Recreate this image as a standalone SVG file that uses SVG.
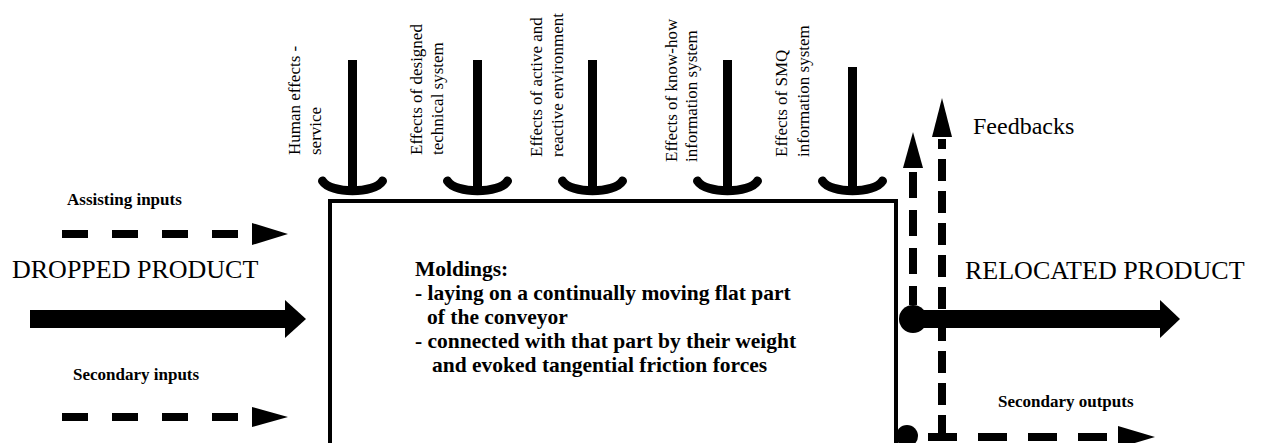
<svg xmlns="http://www.w3.org/2000/svg" width="1263" height="443" viewBox="0 0 1263 443">
  <style>
    text { font-family: "Liberation Serif", "Times New Roman", serif; fill: #000; }
    .vert { font-size: 17px; }
    .big { font-size: 26px; }
    .feed { font-size: 24px; }
    .small { font-size: 17px; font-weight: bold; }
    .body { font-size: 21.5px; font-weight: bold; }
    .frame { fill: none; stroke: #000; stroke-width: 4; }
    .flow { stroke: #000; stroke-width: 18; fill: none; }
    .dash { stroke: #000; stroke-width: 8; fill: none; }
    .shaft { stroke: #000; stroke-width: 9; fill: none; }
    .cup { stroke: #000; stroke-width: 9; fill: none; stroke-linecap: round; }
    .head { fill: #000; }
  </style>
  <defs>
    <!-- control arrow: vertical shaft ending in a cup -->
    <g id="ctrl">
      <path class="cup" d="M-30,181 C-22,194 22,194 30,181"/>
    </g>
  </defs>
  <rect width="1263" height="443" fill="#fff"/>

  <!-- process box -->
  <g id="process">
    <rect class="frame" x="330" y="201" width="566" height="270"/>
    <text class="body" x="415" y="276">Moldings:</text>
    <text class="body" x="415" y="300">- laying on a continually moving flat part</text>
    <text class="body" x="427" y="324">of the conveyor</text>
    <text class="body" x="415" y="348">- connected with that part by their weight</text>
    <text class="body" x="432" y="372">and evoked tangential friction forces</text>
  </g>

  <!-- control labels (rotated) -->
  <g id="ctrl-human">
    <text class="vert" transform="translate(300,155) rotate(-90)">Human effects -</text>
    <text class="vert" transform="translate(321,155) rotate(-90)">service</text>
  </g>
  <g id="ctrl-technical">
    <text class="vert" transform="translate(422,155) rotate(-90)">Effects of designed</text>
    <text class="vert" transform="translate(443,155) rotate(-90)">technical system</text>
  </g>
  <g id="ctrl-environment">
    <text class="vert" transform="translate(542,157) rotate(-90)">Effects of active and</text>
    <text class="vert" transform="translate(563,157) rotate(-90)">reactive environment</text>
  </g>
  <g id="ctrl-knowhow">
    <text class="vert" transform="translate(677,162) rotate(-90)">Effects of know-how</text>
    <text class="vert" transform="translate(697,162) rotate(-90)">information system</text>
  </g>
  <g id="ctrl-smq">
    <text class="vert" transform="translate(787,157) rotate(-90)">Effects of SMQ</text>
    <text class="vert" transform="translate(809,157) rotate(-90)">information system</text>
  </g>

  <!-- input labels -->
  <g id="in-assisting">
    <text class="small" x="67" y="205">Assisting inputs</text>
  </g>
  <g id="in-dropped">
    <text class="big" x="12" y="278">DROPPED PRODUCT</text>
  </g>
  <g id="in-secondary">
    <text class="small" x="73" y="380">Secondary inputs</text>
  </g>

  <!-- output labels -->
  <g id="out-feedbacks">
    <text class="feed" x="973" y="134">Feedbacks</text>
  </g>
  <g id="out-relocated">
    <text class="big" x="965" y="279">RELOCATED PRODUCT</text>
  </g>
  <g id="out-secondary">
    <text class="small" x="998" y="407">Secondary outputs</text>
  </g>

  <!-- connectors -->
  <g id="connectors">
    <!-- control arrows -->
    <line class="shaft" x1="352.5" y1="60" x2="352.5" y2="190"/>
    <use href="#ctrl" x="352.5"/>
    <line class="shaft" x1="477.5" y1="60" x2="477.5" y2="190"/>
    <use href="#ctrl" x="477.5"/>
    <line class="shaft" x1="592.5" y1="60" x2="592.5" y2="190"/>
    <use href="#ctrl" x="592.5"/>
    <line class="shaft" x1="727.5" y1="60" x2="727.5" y2="190"/>
    <use href="#ctrl" x="727.5"/>
    <line class="shaft" x1="852.5" y1="67" x2="852.5" y2="190"/>
    <use href="#ctrl" x="852.5"/>

    <!-- assisting inputs -->
    <line class="dash" x1="62" y1="234" x2="240" y2="234" stroke-dasharray="26 24"/>
    <polygon class="head" points="252,223 288,234 252,245"/>
    <!-- dropped product -->
    <line class="flow" x1="30" y1="319" x2="286" y2="319"/>
    <polygon class="head" points="285,300 306,319 285,338"/>
    <!-- secondary inputs -->
    <line class="dash" x1="62" y1="417" x2="240" y2="417" stroke-dasharray="26 24"/>
    <polygon class="head" points="252,407 288,417 252,427"/>

    <!-- relocated product -->
    <circle cx="913" cy="319" r="14" fill="#000"/>
    <line class="flow" x1="913" y1="319" x2="1161" y2="319"/>
    <polygon class="head" points="1160,300 1180,319 1160,338"/>

    <!-- feedbacks -->
    <line class="dash" x1="913" y1="172" x2="913" y2="305" stroke-dasharray="26 12"/>
    <polygon class="head" points="913,132 903,168 923,168"/>
    <line class="dash" x1="942" y1="437" x2="942" y2="139" stroke-dasharray="22 10"/>
    <polygon class="head" points="942,98 932,137 952,137"/>

    <!-- secondary outputs -->
    <circle cx="907" cy="436" r="11" fill="#000"/>
    <line class="dash" x1="928" y1="437" x2="1108" y2="437" stroke-dasharray="29 21"/>
    <polygon class="head" points="1118,426 1155,437 1118,448"/>
  </g>
</svg>
